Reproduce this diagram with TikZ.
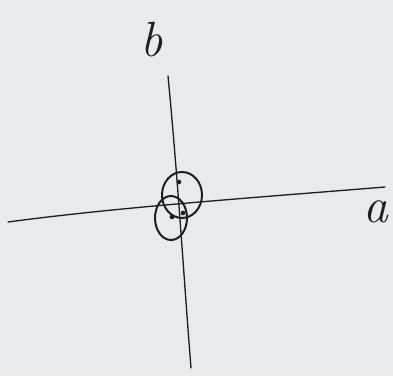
\documentclass[tikz,border=0pt]{standalone}
\usetikzlibrary{positioning}

\definecolor{paper}{RGB}{233,234,236}
\definecolor{ink}{RGB}{30,30,32}

\begin{document}
\begin{tikzpicture}[
    x=0.0265cm, y=-0.0265cm,
    font=\Huge,
    pen/.style={draw=ink,line width=1pt,line cap=round},
    ring/.style={draw=ink,line width=1.5pt},
    dot/.style={circle,fill=ink,inner sep=0pt,minimum size=3.5pt},
    lbl/.style={text=ink,inner sep=0pt,scale=1.5}
  ]
    % Background sheet
    \fill[paper] (0,0) rectangle (393,376);
    \useasboundingbox (0,0) rectangle (393,376);

    % Axes
    \coordinate (xl) at (8,222);
    \coordinate (xr) at (385,187);
    \coordinate (yt) at (168,76);
    \coordinate (yb) at (191,368);
    \draw[pen] (xl) .. controls (120,207) and (250,198) .. (xr);
    \draw[pen] (yt) .. controls (178,180) and (184,280) .. (yb);

    % Axis labels
    \node[lbl] (b) at (152,40) {\itshape b};
    \node[lbl] (a) at (376,212) {\itshape a};

    % Two circles near the origin
    \draw[ring] (182,195) ellipse [x radius=20, y radius=23];
    \draw[ring] (171,218) ellipse [x radius=16, y radius=22];

    % Points
    \node[dot] (p1) at (179,182) {};
    \node[dot] (p2) at (172,217) {};
    \node[dot] (p3) at (183,213) {};
  \end{tikzpicture}
\end{document}
